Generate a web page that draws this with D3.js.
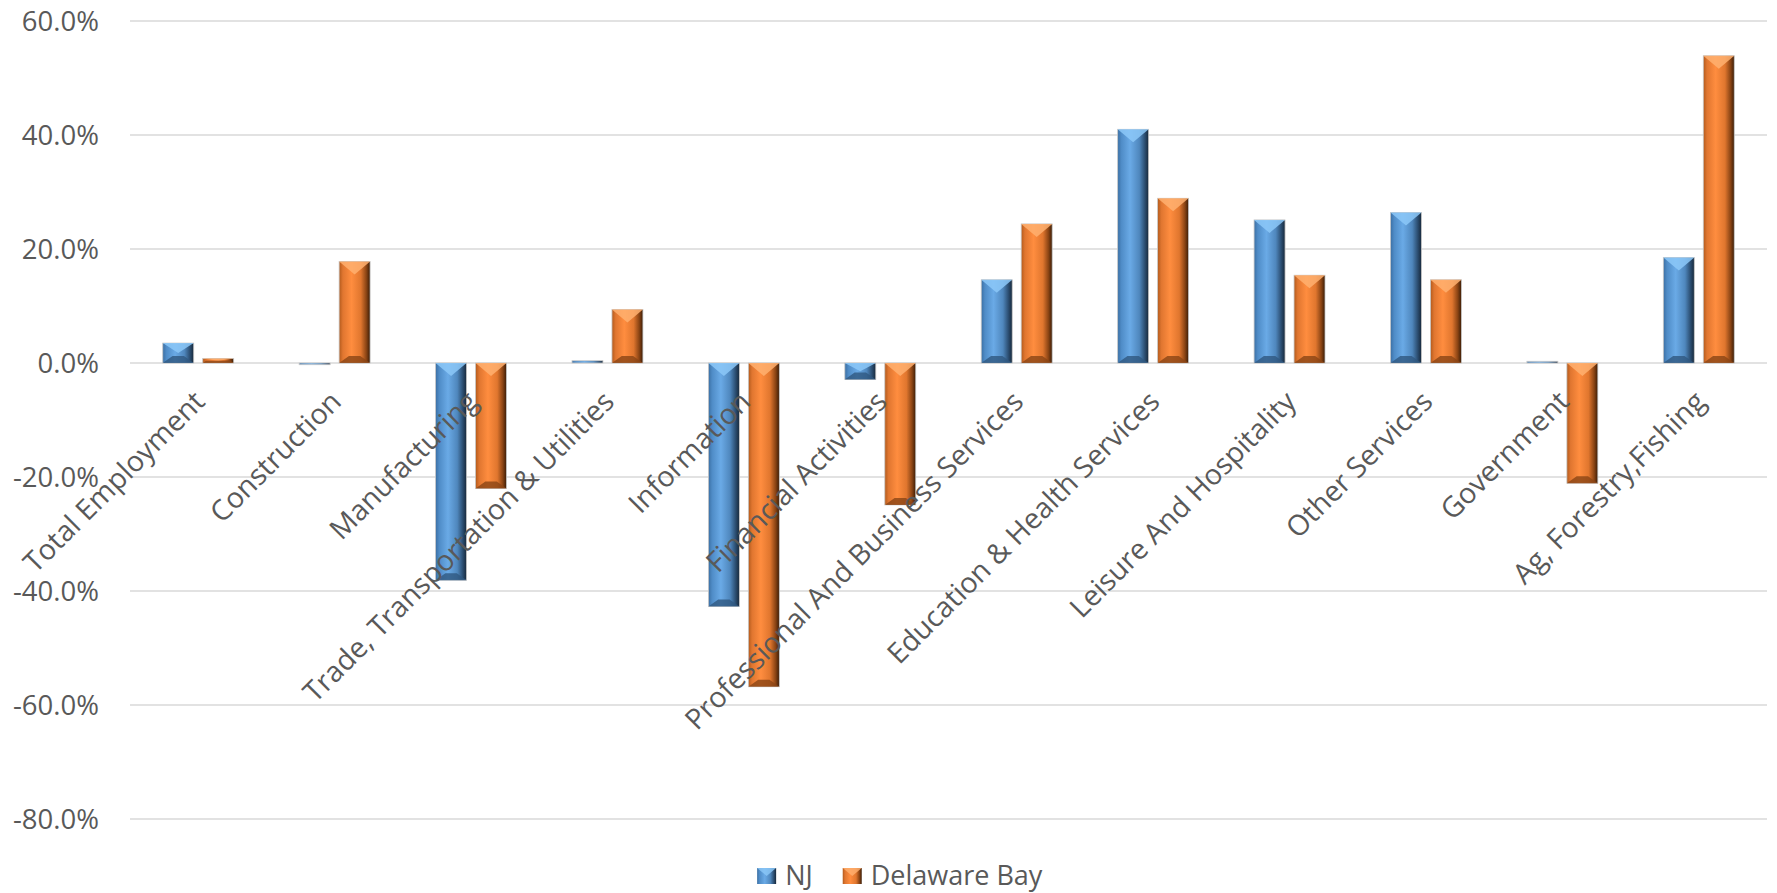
<!DOCTYPE html>
<html>
<head>
<meta charset="utf-8">
<script src="https://cdn.jsdelivr.net/npm/d3@7"></script>
<style>
  body { margin: 0; background: #fff; }
  text { font-family: "Open Sans", sans-serif; fill: #595959; }
</style>
</head>
<body>
<script>
const categories = [
  "Total Employment", "Construction", "Manufacturing",
  "Trade, Transportation & Utilities", "Information", "Financial Activities",
  "Professional And Business Services", "Education & Health Services",
  "Leisure And Hospitality", "Other Services", "Government", "Ag, Forestry,Fishing"
];
const seriesNames = ["NJ", "Delaware Bay"];
const njValues = [3.5, -0.3, -38.1, 0.4, -42.7, -2.9, 14.6, 41.0, 25.1, 26.4, 0.3, 18.5];
const delawareBayValues = [0.8, 17.8, -22.0, 9.4, -56.8, -24.9, 24.4, 28.9, 15.4, 14.6, -21.1, 53.9];
const yTicks = [60, 40, 20, 0, -20, -40, -60, -80];

const width = 1777, height = 893;
const svg = d3.select("body").append("svg")
   .attr("width", width)
   .attr("height", height);

const rows = categories.map((c, i) => ({
   category: c,
   values: [
      { series: "NJ", value: njValues[i] },
      { series: "Delaware Bay", value: delawareBayValues[i] }
   ]
}));

const scaleX = d3.scaleBand()
   .domain(categories)
   .range([130, 1767]);

const scaleY = d3.scaleLinear()
   .domain([-80, 60])
   .range([819, 21]);

const half = scaleX.bandwidth() * 0.26;
const scaleSeries = d3.scaleBand()
   .domain(seriesNames)
   .range([-half, half])
   .paddingInner(0.225);

// gradients for the bevelled bars
const defs = svg.append("defs");
const palettes = {
   "NJ": [["0%", "#3b6fa3"], ["12%", "#4f8cc7"], ["40%", "#6aaae6"], ["70%", "#4f87bd"], ["88%", "#2b4d70"], ["100%", "#17283a"]],
   "Delaware Bay": [["0%", "#b25a1c"], ["12%", "#e07630"], ["40%", "#ff8d3f"], ["70%", "#e0762e"], ["88%", "#8a4414"], ["100%", "#3a1c06"]]
};
seriesNames.forEach((s, i) => {
   const g = defs.append("linearGradient")
      .attr("id", "grad" + i)
      .attr("x1", "0%").attr("x2", "100%")
      .attr("y1", "0%").attr("y2", "0%");
   palettes[s].forEach(p => g.append("stop").attr("offset", p[0]).attr("stop-color", p[1]));
});
const topColor = { "NJ": "#8cc8f8", "Delaware Bay": "#ffb070" };
const bottomColor = { "NJ": "#2f5780", "Delaware Bay": "#8a4515" };

// grid lines
svg.selectAll("hline")
   .data(yTicks)
   .enter()
   .append("line")
   .attr("x1", 130)
   .attr("x2", 1767)
   .attr("y1", d => scaleY(d))
   .attr("y2", d => scaleY(d))
   .attr("stroke", "#d9d9d9")
   .attr("stroke-width", 1.5);

// y axis labels
svg.selectAll("ylabel")
   .data(yTicks)
   .enter()
   .append("text")
   .attr("x", 99)
   .attr("y", d => scaleY(d))
   .attr("dy", "0.35em")
   .attr("text-anchor", "end")
   .style("font-size", "27.5px")
   .text(d => d.toFixed(1) + "%");

// bars
const groups = svg.selectAll("g.cat")
   .data(rows)
   .enter().append("g")
   .attr("class", "cat")
   .attr("transform", d => "translate(" + (scaleX(d.category) + scaleX.bandwidth() / 2) + ",0)");

groups.selectAll("g.bar")
   .data(d => d.values)
   .enter().append("g")
   .attr("class", "bar")
   .each(function (d) {
      const g = d3.select(this);
      const x0 = scaleSeries(d.series);
      const w = scaleSeries.bandwidth();
      const y0 = Math.min(scaleY(0), scaleY(d.value));
      const y1 = Math.max(scaleY(0), scaleY(d.value));
      const h = Math.max(y1 - y0, 1.5);
      const idx = seriesNames.indexOf(d.series);
      g.append("rect")
         .attr("x", x0)
         .attr("y", y0)
         .attr("width", w)
         .attr("height", h)
         .attr("fill", "url(#grad" + idx + ")")
         .attr("stroke", "#c8c8c8")
         .attr("stroke-width", 0.8);
      const b = Math.min(13, h / 2);
      if (h > 4) {
         g.append("path")
            .attr("d", `M${x0},${y0} L${x0 + w},${y0} L${x0 + w / 2},${y0 + b} Z`)
            .attr("fill", topColor[d.series])
            .attr("opacity", 0.85);
         const bb = Math.min(7, h / 2);
         g.append("path")
            .attr("d", `M${x0},${y0 + h} L${x0 + w},${y0 + h} L${x0 + w - bb * 1.4},${y0 + h - bb} L${x0 + bb * 1.4},${y0 + h - bb} Z`)
            .attr("fill", bottomColor[d.series])
            .attr("opacity", 0.8);
      }
   });

// category labels
svg.selectAll("xlabel")
   .data(categories)
   .enter()
   .append("text")
   .attr("transform", d => "translate(" + (scaleX(d) + scaleX.bandwidth() / 2 - 6) + ",389) rotate(-45)")
   .attr("text-anchor", "end")
   .attr("dy", "0.71em")
   .style("font-size", "28.5px")
   .text(d => d);

// legend
const legend = svg.append("g").attr("class", "legend");
const items = legend.selectAll("g")
   .data(seriesNames)
   .enter().append("g");
items.append("rect")
   .attr("x", 0)
   .attr("y", -8)
   .attr("width", 19)
   .attr("height", 16)
   .attr("fill", (d, i) => "url(#grad" + i + ")");
items.append("path")
   .attr("d", "M0,-8 L19,-8 L9.5,0 Z")
   .attr("fill", d => topColor[d])
   .attr("opacity", 0.8);
items.append("text")
   .attr("x", 28)
   .attr("y", 0)
   .attr("dy", "0.35em")
   .style("font-size", "27px")
   .text(d => d);
let offset = 0;
const widths = [];
items.each(function () {
   widths.push(this.getBBox().width);
});
const total = d3.sum(widths) + 30 * (widths.length - 1);
items.attr("transform", (d, i) => {
   const x = 900 - total / 2 + offset;
   offset += widths[i] + 30;
   return "translate(" + x + ",876)";
});
</script>
</body>
</html>
